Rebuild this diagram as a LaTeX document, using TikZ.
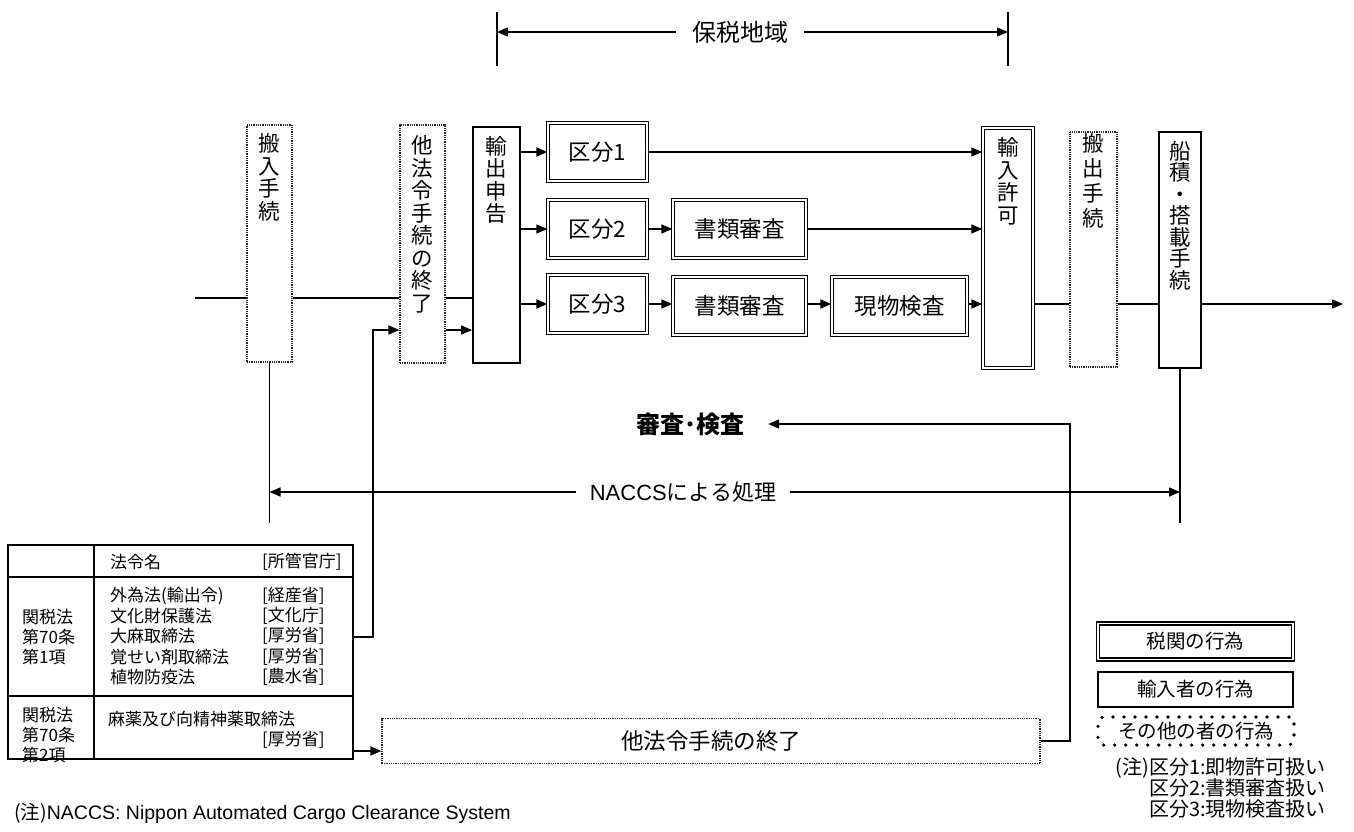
\documentclass[tikz,border=0pt]{standalone}
\usepackage{fontspec}
\setmainfont{Noto Sans CJK JP}
\newfontfamily\arial{Liberation Sans}
\usetikzlibrary{arrows.meta,calc}
\begin{document}
\begin{tikzpicture}[x=1pt,y=-1pt,
  ln/.style={line width=1.4pt},
  arr/.style={line width=1.4pt,-{Triangle[length=11pt,width=9pt]}},
  dotbox/.style={draw=black!85,line width=1.2pt,dash pattern=on 1pt off 0.8pt,fill=white,inner sep=0pt},
  solbox/.style={draw,line width=1.8pt,fill=white,inner sep=0pt},
  dblbox/.style={draw,double,line width=1.3pt,double distance=1.6pt,fill=white,inner sep=0pt},
  vtext/.style={anchor=north,align=center,inner sep=0pt,font=\fontsize{21.5}{22.5}\selectfont},
  btext/.style={font=\fontsize{22.5}{24}\selectfont},
  ttext/.style={anchor=west,inner sep=0pt,font=\fontsize{17}{20}\selectfont,align=left},
  ltext/.style={font=\fontsize{19.5}{21}\selectfont},
]
\useasboundingbox (0,0) rectangle (1354,831);
\fill[white] (0,0) rectangle (1354,831);

% vertical boxes
\node[dotbox,minimum width=45pt,minimum height=237pt] (hannyu) at (269.5,243.5) {};
\node[vtext] (hannyuT) at ([yshift=-9pt]hannyu.north) {搬\\入\\手\\続};
\node[dotbox,minimum width=45pt,minimum height=238pt] (tahorei) at (422.5,244) {};
\node[vtext] (tahoreiT) at ([yshift=-11pt]tahorei.north) {他\\法\\令\\手\\続\\の\\終\\了};
\node[solbox,minimum width=47pt,minimum height=236pt] (yushutsu) at (496.5,245) {};
\node[vtext] (yushutsuT) at ([yshift=-10pt]yushutsu.north) {輸\\出\\申\\告};
\node[dblbox,minimum width=50pt,minimum height=240pt] (kyoka) at (1008,248) {};
\node[vtext] (kyokaT) at ([yshift=-10pt]kyoka.north) {輸\\入\\許\\可};
\node[dotbox,minimum width=47pt,minimum height=235pt] (hanshutsu) at (1093.5,249.5) {};
\node[vtext,font=\fontsize{21.5}{25}\selectfont] (hanshutsuT) at ([yshift=-2pt]hanshutsu.north) {搬\\出\\手\\続};
\node[solbox,minimum width=42pt,minimum height=236pt] (funazumi) at (1180,250) {};
\node[vtext,font=\fontsize{21.5}{21.5}\selectfont] (funazumiT) at ([yshift=-10pt]funazumi.north) {船\\積\\・\\搭\\載\\手\\続};

% row boxes
\node[dblbox,btext,minimum width=99pt,minimum height=58pt] (k1) at (597.5,152) {区分1};
\node[dblbox,btext,minimum width=99pt,minimum height=58pt] (k2) at (597.5,229) {区分2};
\node[dblbox,btext,minimum width=99pt,minimum height=58pt] (k3) at (597.5,304) {区分3};
\node[dblbox,btext,minimum width=133pt,minimum height=58pt] (s2) at (739.5,229) {書類審査};
\node[dblbox,btext,minimum width=133pt,minimum height=58pt] (s3) at (739.5,306) {書類審査};
\node[dblbox,btext,minimum width=135pt,minimum height=58pt] (g) at (899.5,306) {現物検査};

% main line
\coordinate (mL) at (195,298);
\coordinate (mR) at (1343,304);
\draw[ln] (mL) -- (mL -| hannyu.west) (hannyu.east |- mL) -- (tahorei.west |- mL) (tahorei.east |- mL) -- (yushutsu.west |- mL);
\coordinate (y330) at (0,330);
\draw[arr] (tahorei.east |- y330) -- (yushutsu.west |- y330);
\draw[arr] (yushutsu.east |- k1) -- (k1.west);
\draw[arr] (k1.east) -- (kyoka.west |- k1);
\draw[arr] (yushutsu.east |- k2) -- (k2.west);
\draw[arr] (k2.east) -- (s2.west |- k2);
\draw[arr] (s2.east |- k2) -- (kyoka.west |- k2);
\draw[arr] (yushutsu.east |- k3) -- (k3.west);
\draw[arr] (k3.east) -- (s3.west |- k3);
\draw[arr] (s3.east |- k3) -- (g.west |- k3);
\draw[arr] (g.east |- k3) -- (kyoka.west |- k3);
\draw[ln] (kyoka.east |- mR) -- (hanshutsu.west |- mR) (hanshutsu.east |- mR) -- (funazumi.west |- mR);
\draw[arr] (funazumi.east |- mR) -- (mR);

% bonded area
\node[font=\fontsize{24}{26}\selectfont,inner xsep=16pt] (hozei) at (740,32) {保税地域};
\coordinate (tL1) at (497,12); \coordinate (tL2) at (497,66);
\coordinate (tR1) at (1008,12); \coordinate (tR2) at (1008,66);
\draw[ln] (tL1) -- (tL2) (tR1) -- (tR2);
\draw[arr] (hozei.west) -- (tL1 |- hozei);
\draw[arr] (hozei.east) -- (tR1 |- hozei);

% NACCS
\node[font=\fontsize{22}{24}\selectfont,inner xsep=14pt] (naccs) at (683,492) {{\arial NACCS}による処理};
\coordinate (nL) at (269.5,523);
\coordinate (nR) at (1180,523);
\draw[ln] (hannyu.south) -- (nL) (funazumi.south) -- (nR);
\draw[arr] (naccs.west) -- (nL |- naccs);
\draw[arr] (naccs.east) -- (nR |- naccs);

% shinsa
\node[font=\bfseries\fontsize{24}{26}\selectfont,inner xsep=24pt] (shinsa) at (690,424) {審査･検査};

% other procedures box
\node[dotbox,btext,minimum width=658pt,minimum height=45pt] (other) at (711,741) {他法令手続の終了};
\coordinate (lpTop) at (1070,424);
\draw[arr] (other.east) -| (lpTop) -- (shinsa.east);

% table
\node[draw,line width=1.5pt,minimum width=345pt,minimum height=214pt,inner sep=0pt] (tbl) at (180.5,652) {};
\draw[line width=1.3pt] (94,545) -- (94,759) (8,577) -- (353,577) (8,696) -- (353,696);
\node[ttext] (h1) at (110,562) {法令名};
\node[ttext] (h2) at (262,562) {[所管官庁]};
\node[ttext] (r1a) at (110,596) {外為法(輸出令)};
\node[ttext] (r1b) at (262,596) {[経産省]};
\node[ttext] (r2a) at (110,616) {文化財保護法};
\node[ttext] (r2b) at (262,616) {[文化庁]};
\node[ttext] (r3a) at (110,636) {大麻取締法};
\node[ttext] (r3b) at (262,636) {[厚労省]};
\node[ttext] (r4a) at (110,657) {覚せい剤取締法};
\node[ttext] (r4b) at (262,657) {[厚労省]};
\node[ttext] (r5a) at (110,677) {植物防疫法};
\node[ttext] (r5b) at (262,677) {[農水省]};
\node[ttext] (c1) at (22,637) {関税法\\第70条\\第1項};
\node[ttext] (c2) at (22,735) {関税法\\第70条\\第2項};
\node[ttext] (r6a) at (108,719) {麻薬及び向精神薬取締法};
\node[ttext] (r6b) at (262,740) {[厚労省]};

\coordinate (y637) at (0,637);
\coordinate (y751) at (0,751);
\coordinate (lpA) at (373,637);
\coordinate (lpB) at (373,330);
\draw[arr] (tbl.east |- y637) -- (lpA) -- (lpB) -- (tahorei.west |- lpB);
\draw[arr] (tbl.east |- y751) -- (other.west |- y751);

% legend
\node[dblbox,ltext,minimum width=195pt,minimum height=36pt] (lg1) at (1195.5,641.5) {税関の行為};
\node[solbox,ltext,minimum width=195pt,minimum height=35pt] (lg2) at (1195.5,689.5) {輸入者の行為};
\node[draw,line width=3.6pt,dash pattern=on 0pt off 11pt,line cap=round,rounded corners=5pt,ltext,inner sep=0pt,minimum width=196pt,minimum height=28pt] (lg3) at (1196,731) {その他の者の行為};
\node[anchor=north east,align=right,inner sep=0pt,font=\fontsize{20}{21}\selectfont] (notes) at (1326,757) {(注)区分1:即物許可扱い\\区分2:書類審査扱い\\区分3:現物検査扱い};

\node[anchor=west,inner sep=0pt,font=\fontsize{19.5}{21}\selectfont] (note1) at (14,813) {(注){\arial NACCS: Nippon Automated Cargo Clearance System}};
\end{tikzpicture}
\end{document}
